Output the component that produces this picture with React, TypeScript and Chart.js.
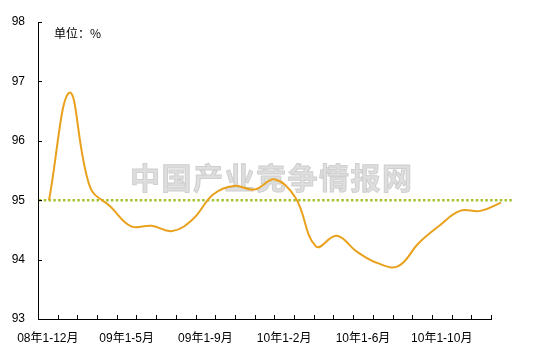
import React, { useEffect, useRef } from "react";
import { Chart, registerables } from "chart.js";

Chart.register(...registerables);

const categories = [
  "08年1-12月",
  "09年1-2月", "09年1-3月", "09年1-4月", "09年1-5月", "09年1-6月", "09年1-7月",
  "09年1-8月", "09年1-9月", "09年1-10月", "09年1-11月", "09年1-12月",
  "10年1-2月", "10年1-3月", "10年1-4月", "10年1-5月", "10年1-6月", "10年1-7月",
  "10年1-8月", "10年1-9月", "10年1-10月", "10年1-11月", "10年1-12月",
];
const shownLabels = ["08年1-12月", "09年1-5月", "09年1-9月", "10年1-2月", "10年1-6月", "10年1-10月"];
const values = [
  95.0, 96.81, 95.22, 94.89, 94.56, 94.57, 94.48, 94.68, 95.1, 95.24, 95.18, 95.35,
  95.04, 94.22, 94.4, 94.13, 93.94, 93.89, 94.28, 94.57, 94.82, 94.82, 94.96,
];
const yMin = 93;
const yMax = 98;
const referenceLevel = 95;
const unitLabel = "单位：%";
const watermark = "中国产业竞争情报网";

const FONT = '"Liberation Sans", "Noto Sans CJK SC", Arial, sans-serif';
const CJK = '"Noto Sans CJK SC", "Liberation Sans", sans-serif';

// horizontal range of the line axis (in point-index units)
const X_MIN = -0.535;
const X_MAX = 21.514;
const REF_START = -0.49;
const REF_END = 22.58;

const decorations = {
  id: "decorations",
  beforeDatasetsDraw(chart: any) {
    const ctx = chart.ctx;
    ctx.save();
    // watermark
    ctx.font = `bold 30px ${CJK}`;
    ctx.textAlign = "center";
    ctx.textBaseline = "middle";
    const step = 31.5;
    const cx = 271;
    const cy = 178;
    const n = watermark.length;
    for (let i = 0; i < n; i++) {
      const x = cx + (i - (n - 1) / 2) * step;
      ctx.fillStyle = "#dedede";
      ctx.fillText(watermark[i], x, cy);
      ctx.strokeStyle = "#cfcfcf";
      ctx.lineWidth = 1;
      ctx.strokeText(watermark[i], x, cy);
    }
    ctx.restore();
  },
  afterDraw(chart: any) {
    const ctx = chart.ctx;
    const xs = chart.scales.xc;
    const ys = chart.scales.y;
    ctx.save();
    ctx.strokeStyle = "#000";
    ctx.lineWidth = 1;
    ctx.beginPath();
    for (let i = 0; i <= categories.length; i++) {
      const px = Math.round(xs.getPixelForValue(i - 0.5)) + 0.5;
      ctx.moveTo(px, xs.top);
      ctx.lineTo(px, xs.top - 4);
    }
    ys.ticks.forEach((t: any) => {
      const py = Math.round(ys.getPixelForValue(t.value)) + 0.5;
      ctx.moveTo(ys.right, py);
      ctx.lineTo(ys.right + 4, py);
    });
    ctx.stroke();
    ctx.fillStyle = "#000";
    ctx.font = `12px ${CJK}`;
    ctx.textAlign = "left";
    ctx.textBaseline = "middle";
    ctx.fillText(unitLabel, 54, 33);
    ctx.restore();
  },
};

export default function App() {
  const ref = useRef<HTMLCanvasElement>(null);
  useEffect(() => {
    const canvas = ref.current!;
    const chart = new Chart(canvas, {
      type: "line",
      data: {
        datasets: [
          {
            data: values.map((v, i) => ({ x: i, y: v })),
            borderColor: "#E9A11D",
            borderWidth: 2,
            pointRadius: 0,
            tension: 0.4,
            fill: false,
            clip: false as any,
            xAxisID: "x",
            yAxisID: "y",
            order: 1,
          },
          {
            data: [
              { x: REF_START, y: referenceLevel },
              { x: REF_END, y: referenceLevel },
            ],
            borderColor: "#A3C232",
            borderWidth: 2.5,
            borderDash: [2.5, 2.3],
            pointRadius: 0,
            fill: false,
            clip: false as any,
            xAxisID: "x",
            yAxisID: "y",
            order: 2,
          },
        ],
      },
      options: {
        responsive: false,
        animation: false,
        layout: { padding: { top: 22, right: 53, left: 0, bottom: 0 } },
        plugins: { legend: { display: false }, tooltip: { enabled: false } },
        scales: {
          x: {
            type: "linear",
            display: false,
            min: X_MIN,
            max: X_MAX,
          },
          xc: {
            type: "category",
            position: "bottom",
            labels: categories,
            offset: true,
            grid: { display: false, drawTicks: false },
            border: { display: true, color: "#000", width: 1 },
            ticks: {
              autoSkip: false,
              maxRotation: 0,
              padding: 12,
              color: "#000",
              font: { family: FONT, size: 12 },
              callback: (_v: any, i: number) =>
                shownLabels.includes(categories[i]) ? categories[i] : "",
            },
            afterFit: (s: any) => {
              s.height = 40;
            },
          },
          y: {
            type: "linear",
            min: yMin,
            max: yMax,
            grid: { display: false, drawTicks: false },
            border: { display: true, color: "#000", width: 1 },
            ticks: {
              stepSize: 1,
              padding: 13,
              color: "#000",
              font: { family: FONT, size: 12 },
            },
            afterFit: (s: any) => {
              s.width = 38;
            },
          },
        },
      },
      plugins: [decorations],
    });
    return () => chart.destroy();
  }, []);
  return (
    <div style={{ position: "absolute", left: 0, top: 0, width: 544, height: 359, background: "#fff" }}>
      <canvas ref={ref} width={544} height={359} style={{ display: "block" }} />
    </div>
  );
}
